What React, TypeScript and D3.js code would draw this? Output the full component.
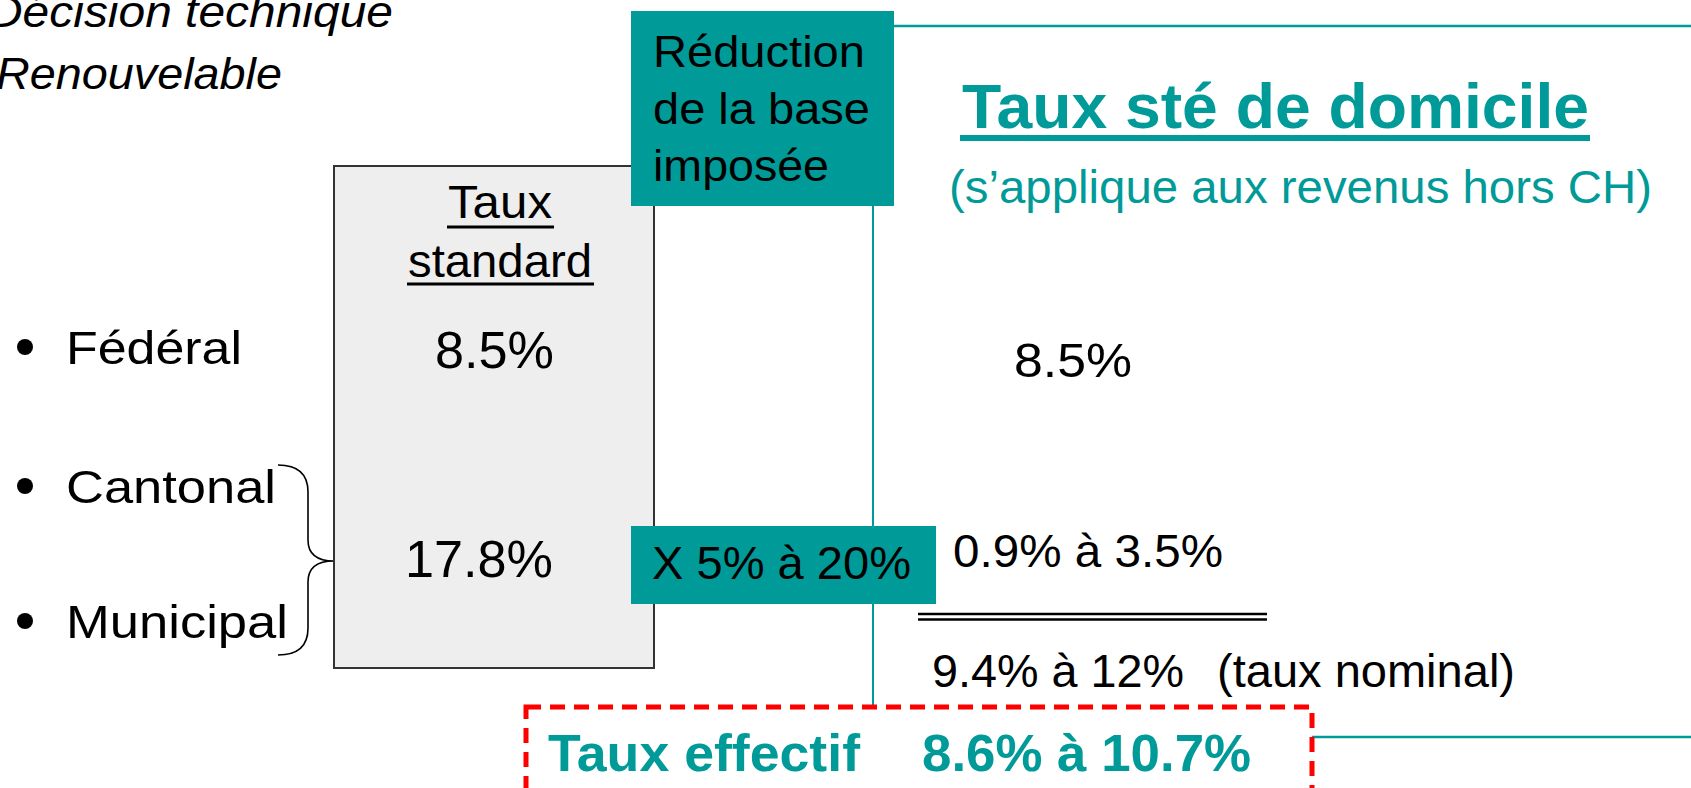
import React from "react";
import * as d3 from "d3";

// ---- data ----
const HEADER_LINES = ["Décision technique", "Renouvelable"];
const LEVELS = ["Fédéral", "Cantonal", "Municipal"];
const STANDARD_HEADER = ["Taux", "standard"];
const STANDARD_RATES = ["8.5%", "17.8%"];
const REDUCTION_LINES = ["Réduction", "de la base", "imposée"];
const REDUCTION_FACTOR = "X 5% à 20%";
const TITLE = "Taux sté de domicile";
const SUBTITLE = "(s’applique aux revenus hors CH)";
const DOMICILE_RATES = ["8.5%", "0.9% à 3.5%", "9.4% à 12%"];
const NOMINAL_NOTE = "(taux nominal)";
const EFFECTIVE = ["Taux effectif", "8.6% à 10.7%"];

const W = 1691;
const H = 788;
const TEAL = "#009a98";
const FONT = "'Liberation Sans', Arial, sans-serif";

type TP = {
  x: number;
  y: number;
  w: number;
  size: number;
  fill?: string;
  bold?: boolean;
  italic?: boolean;
  children: string;
};
const T = ({ x, y, w, size, fill = "#000", bold, italic, children }: TP) => (
  <text
    x={x}
    y={y}
    textLength={w}
    lengthAdjust="spacingAndGlyphs"
    fontSize={size}
    fontFamily={FONT}
    fontWeight={bold ? "bold" : "normal"}
    fontStyle={italic ? "italic" : "normal"}
    fill={fill}
  >
    {children}
  </text>
);

export default function App() {
  // row positions (baselines) for the three levels
  const rowY = d3.scaleOrdinal<string, number>().domain(LEVELS).range([364, 503, 638]);
  const bulletW = [176, 210, 222];

  const brace = d3.path();
  brace.moveTo(278, 465);
  brace.quadraticCurveTo(308, 465, 308, 492);
  brace.lineTo(308, 540);
  brace.quadraticCurveTo(308, 561, 334, 561);
  brace.quadraticCurveTo(308, 561, 308, 582);
  brace.lineTo(308, 628);
  brace.quadraticCurveTo(308, 655, 278, 655);

  return (
    <svg
      width={W}
      height={H}
      viewBox={`0 0 ${W} ${H}`}
      style={{ position: "absolute", left: 0, top: 0, background: "#fff" }}
    >
      <rect x={0} y={0} width={W} height={H} fill="#fff" />

      {/* top-left italic notes */}
      <T x={-12} y={27} w={405} size={44} italic>{HEADER_LINES[0]}</T>
      <T x={-4} y={89} w={286} size={44} italic>{HEADER_LINES[1]}</T>

      {/* bullet list */}
      {LEVELS.map((l, i) => (
        <g key={l}>
          <circle cx={25} cy={rowY(l) - 17} r={8} fill="#000" />
          <T x={66} y={rowY(l)} w={bulletW[i]} size={47}>{l}</T>
        </g>
      ))}
      <path d={brace.toString()} fill="none" stroke="#000" strokeWidth={1.6} />

      {/* standard rate box */}
      <rect x={334} y={166} width={320} height={502} fill="#eeeeee" stroke="#333" strokeWidth={2} />
      <T x={448} y={218} w={104} size={46}>{STANDARD_HEADER[0]}</T>
      <line x1={447} x2={554} y1={227} y2={227} stroke="#000" strokeWidth={3} />
      <T x={408} y={277} w={184} size={46}>{STANDARD_HEADER[1]}</T>
      <line x1={407} x2={594} y1={284} y2={284} stroke="#000" strokeWidth={3} />
      <T x={435} y={368} w={119} size={51}>{STANDARD_RATES[0]}</T>
      <T x={405} y={577} w={148} size={51}>{STANDARD_RATES[1]}</T>

      {/* teal frame lines */}
      <line x1={873} x2={W} y1={26} y2={26} stroke={TEAL} strokeWidth={2.5} />
      <line x1={873} x2={873} y1={26} y2={707} stroke={TEAL} strokeWidth={2} />
      <line x1={1312} x2={W} y1={737} y2={737} stroke={TEAL} strokeWidth={2.5} />

      {/* reduction box */}
      <rect x={631} y={11} width={263} height={195} fill={TEAL} />
      <T x={653} y={67} w={212} size={44}>{REDUCTION_LINES[0]}</T>
      <T x={653} y={124} w={217} size={44}>{REDUCTION_LINES[1]}</T>
      <T x={653} y={181} w={176} size={44}>{REDUCTION_LINES[2]}</T>

      <rect x={631} y={526} width={305} height={78} fill={TEAL} />
      <T x={652} y={579} w={259} size={46}>{REDUCTION_FACTOR}</T>

      {/* domicile header */}
      <T x={962} y={128} w={627} size={63} bold fill={TEAL}>{TITLE}</T>
      <rect x={960} y={135} width={630} height={6} fill={TEAL} />
      <T x={949} y={203} w={703} size={47} fill={TEAL}>{SUBTITLE}</T>

      {/* domicile rates */}
      <T x={1014} y={377} w={118} size={49}>{DOMICILE_RATES[0]}</T>
      <T x={953} y={567} w={270} size={47}>{DOMICILE_RATES[1]}</T>
      <line x1={918} x2={1267} y1={614} y2={614} stroke="#000" strokeWidth={2.5} />
      <line x1={918} x2={1267} y1={619.5} y2={619.5} stroke="#000" strokeWidth={2.5} />
      <T x={932} y={687} w={252} size={47}>{DOMICILE_RATES[2]}</T>
      <T x={1217} y={687} w={298} size={47}>{NOMINAL_NOTE}</T>

      {/* effective rate */}
      <rect
        x={526}
        y={707}
        width={786}
        height={120}
        fill="none"
        stroke="#ff0000"
        strokeWidth={5}
        strokeDasharray="15 9"
      />
      <T x={548} y={771} w={312} size={52} bold fill={TEAL}>{EFFECTIVE[0]}</T>
      <T x={922} y={771} w={329} size={52} bold fill={TEAL}>{EFFECTIVE[1]}</T>
    </svg>
  );
}
